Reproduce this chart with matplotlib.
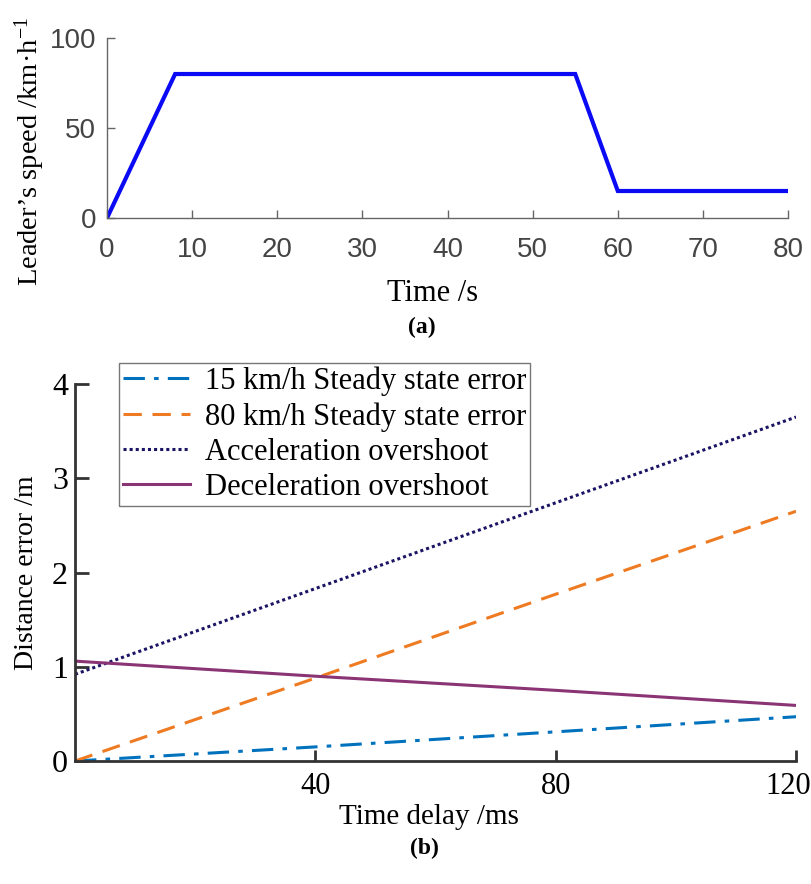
import matplotlib.pyplot as plt
from matplotlib.transforms import ScaledTranslation

plt.rcParams["mathtext.fontset"] = "custom"
plt.rcParams["mathtext.rm"] = "Liberation Serif"
plt.rcParams["mathtext.default"] = "regular"

# --- Dados (a): velocidade do líder ---
t_s = [0, 8, 55, 60, 80]
speed = [0, 80, 80, 15, 15]
speed_xticks = [0, 10, 20, 30, 40, 50, 60, 70, 80]
speed_yticks = [0, 50, 100]

# --- Dados (b): erro de distância x atraso ---
delay_ms = [0, 40, 80, 120]
err_15 = [0.0, 0.15, 0.31, 0.47]
err_80 = [0.0, 0.88, 1.77, 2.65]
acc_over = [0.92, 1.83, 2.74, 3.65]
dec_over = [1.06, 0.90, 0.75, 0.59]
delay_xticks = [40, 80, 120]
err_yticks = [0, 1, 2, 3, 4]

SERIF = "Liberation Serif"
SANS = "Liberation Sans"

fig = plt.figure(figsize=(8.12, 8.84), dpi=100)

# --- (a) ---
ax1 = fig.add_axes([0.1318, 0.7534, 0.8387, 0.2036])
ax1.plot(t_s, speed, color="#0A0AF5", lw=3.0, solid_joinstyle="miter")
ax1.set_xlim(0, 80)
ax1.set_ylim(0, 100)
ax1.set_xticks(speed_xticks)
ax1.set_yticks(speed_yticks)
for s in ["top", "right"]:
    ax1.spines[s].set_visible(False)
for s in ["left", "bottom"]:
    ax1.spines[s].set_color("#666666")
    ax1.spines[s].set_linewidth(1.0)
ax1.tick_params(axis="both", direction="in", length=6, width=1, color="#666666",
                labelcolor="#444444", labelsize=20)
ax1.tick_params(axis="x", pad=14)
ax1.tick_params(axis="y", pad=8)
for lab in ax1.get_xticklabels() + ax1.get_yticklabels():
    lab.set_family(SANS)
ax1.set_xlabel("Time /s", family=SERIF, fontsize=22)
ax1.set_ylabel("Leader’s speed /km·h$^{-1}$", family=SERIF, fontsize=20.5)
ax1.xaxis.set_label_coords((433 - 107) / 681, -0.34)
ax1.yaxis.set_label_coords(-0.088, 0.37)

fig.text(422 / 812, 1 - 327 / 884, "(a)", family=SERIF, fontsize=17,
         fontweight="bold", ha="center", va="center")

# --- (b) ---
ax2 = fig.add_axes([0.0924, 0.1391, 0.888, 0.4265])
ax2.plot(delay_ms, err_15, color="#0072BD", lw=2.2, dashes=(7, 3, 1.5, 3),
         label="15 km/h Steady state error")
ax2.plot(delay_ms, err_80, color="#EE7B22", lw=2.2, dashes=(6, 3.5),
         label="80 km/h Steady state error")
ax2.plot(delay_ms, acc_over, color="#1B1464", lw=2.2, dashes=(1, 1),
         label="Acceleration overshoot")
ax2.plot(delay_ms, dec_over, color="#8A3475", lw=2.2,
         label="Deceleration overshoot")
ax2.set_xlim(0, 120)
ax2.set_ylim(0, 4)
ax2.set_xticks(delay_xticks)
ax2.set_yticks(err_yticks)
for s in ["top", "right"]:
    ax2.spines[s].set_visible(False)
for s in ["left", "bottom"]:
    ax2.spines[s].set_color("#333333")
    ax2.spines[s].set_linewidth(2.0)
ax2.tick_params(axis="both", direction="in", width=2, color="#333333")
ax2.tick_params(axis="x", length=8, pad=8, labelsize=22)
ax2.tick_params(axis="y", length=10, pad=5, labelsize=23)
for lab in ax2.get_xticklabels() + ax2.get_yticklabels():
    lab.set_family(SERIF)
# o "120" fica um pouco deslocado para dentro na figura original
last = ax2.get_xticklabels()[-1]
last.set_transform(last.get_transform() + ScaledTranslation(-8 / 100, 0, fig.dpi_scale_trans))
ax2.set_xlabel("Time delay /ms", family=SERIF, fontsize=21)
ax2.set_ylabel("Distance error /m", family=SERIF, fontsize=20)
ax2.xaxis.set_label_coords((429 - 75) / 721, -0.115)
ax2.yaxis.set_label_coords(-0.05, 0.5)

leg = ax2.legend(loc="upper left", bbox_to_anchor=(119 / 812, 1 - 363 / 884),
                 bbox_transform=fig.transFigure, borderaxespad=0,
                 prop={"family": SERIF, "size": 22}, frameon=True, fancybox=False,
                 handlelength=2.2, handletextpad=0.5, labelspacing=0.2,
                 borderpad=0.12)
leg.get_frame().set_edgecolor("#555555")
leg.get_frame().set_linewidth(1.0)

fig.text(424 / 812, 1 - 848 / 884, "(b)", family=SERIF, fontsize=17,
         fontweight="bold", ha="center", va="center")

fig.savefig("out.png", dpi=100)
